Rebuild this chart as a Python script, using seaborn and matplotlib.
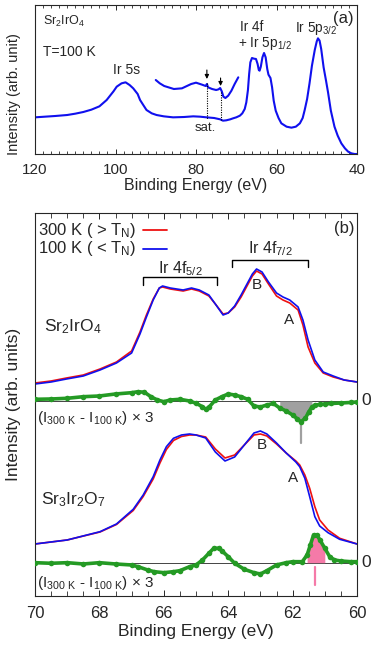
import numpy as np
import pandas as pd
import matplotlib
matplotlib.use("Agg")
import matplotlib.pyplot as plt
import seaborn as sns
from matplotlib.ticker import MultipleLocator

# ---- panel (a): wide scan, Sr2IrO4 at 100 K ----
wide_e = [120, 115, 112, 110, 108, 106, 104, 102.2, 100.5, 99.7, 98.5, 97.5, 96.5,
          95.6, 94.5, 93.9, 93, 92.3, 91, 89.8, 88, 85.7, 83, 80.7, 79, 77.4, 75.5,
          74, 73.3, 72.5, 71.5, 70.8, 70, 69.1, 68.5, 67.9, 67.5, 67.1, 66.8, 66.5,
          66.1, 65.6, 65.1, 64.7, 64.4, 64.2, 63.9, 63.5, 63.1, 62.7, 62.3, 62.0,
          61.5, 61.1, 60.7, 60.2, 59.5, 58.8, 57.5, 56.3, 55.2, 54.2, 53.5, 53,
          52.4, 51.8, 51.2, 50.5, 50, 49.7, 49.3, 48.9, 48.3, 47.7, 47.2, 46.5,
          45.6, 44.8, 43.9, 43, 42.2, 41.4, 40.6, 40]
wide_i = [110, 114, 117, 121, 126, 133, 143, 162, 188, 202, 212, 215, 207,
          197, 180, 162, 145, 132, 122, 117, 113, 110, 111, 113, 112, 110, 108,
          104, 100, 101, 104, 107, 110, 115, 122, 135, 155, 192, 240, 275,
          288, 286, 285, 270, 252, 250, 262, 290, 303, 290, 255, 238,
          228, 200, 160, 130, 108, 92, 82, 79, 82, 92, 108, 132,
          165, 212, 265, 312, 338, 347, 340, 315, 260, 220, 185, 130,
          82, 55, 32, 17, 7, 2, 0, 0]
# magnified satellite region (offset copy)
sat_e = [90, 89, 87.9, 85.5, 83.5, 81.2, 80, 78.5, 77.6, 77.3, 77, 76, 75, 74.4,
         74.0, 73.6, 73.2, 72.7, 72, 71.2, 70.4, 69.5]
sat_i = [222, 212, 204, 195, 197, 210, 214, 208, 204, 210, 200, 195, 192, 194,
         198, 188, 172, 168, 175, 190, 210, 230]
sat_marks = [77.3, 73.9]

# ---- panel (b): Ir 4f core levels ----
e214 = [70, 69.5, 69.02, 68.5, 67.98, 67.47, 67.0, 66.74, 66.54, 66.33, 66.14, 66.04,
        65.8, 65.6, 65.4, 65.14, 64.9, 64.6, 64.4, 64.16, 64.0, 63.8, 63.6, 63.4,
        63.25, 63.12, 62.95, 62.75, 62.5, 62.3, 62.09, 61.83, 61.68, 61.52, 61.31,
        61.05, 60.74, 60.4, 60]
b214_100K = [212, 214, 217, 220, 226, 233, 243, 262, 279, 296, 308, 310,
             308, 307, 306, 308, 306, 301, 292, 281, 283, 290, 301, 313,
             322, 327, 324, 314, 303, 299, 296, 289, 276, 256, 236,
             224, 220, 216, 214]
b214_300K = [213, 215, 218, 221, 227, 234, 245, 264, 281, 297, 308, 309,
             307, 306, 305, 307, 305, 300, 292, 282, 283, 289, 299, 311,
             320, 325, 322, 312, 300, 296, 293, 286, 271, 249, 233,
             223, 219, 216, 214]
d214_e = [70, 69.5, 69, 68.5, 68, 67.5, 67, 66.8, 66.6, 66.4, 66.2, 66, 65.8, 65.5,
          65.2, 65, 64.8, 64.7, 64.6, 64.4, 64.2, 64, 63.8, 63.6, 63.4, 63.2, 63,
          62.8, 62.6, 62.4, 62.2, 62, 61.85, 61.74, 61.6, 61.5, 61.4, 61.3, 61.15,
          61, 60.8, 60.5, 60.2, 60]
d214 = [196.7, 197, 197.7, 199.3, 200, 202, 203.3, 204.3, 203.7, 199.3, 196, 194.3,
        196, 196.7, 195, 192.7, 189.3, 186.7, 188.7, 196, 199.3, 202, 201, 199.3,
        196.7, 190, 189, 191, 192.5, 188, 185, 181, 177, 174, 178, 184, 189, 191,
        191.5, 192, 192.5, 193, 193.5, 194]
zero214 = 195
fill214 = (62.45, 61.38)
mark214 = 61.74

e327 = [70, 69, 67.98, 67.47, 66.95, 66.64, 66.33, 66.12, 65.92, 65.7, 65.45, 65.2,
        65, 64.7, 64.4, 64.1, 63.8, 63.5, 63.2, 63, 62.8, 62.5, 62.2, 61.9, 61.78,
        61.62, 61.47, 61.31, 61.16, 60.9, 60.54, 60]
b327_100K = [52, 56, 64.3, 72, 86.7, 101, 119.3, 136, 149.3, 157.7, 161, 162,
             161, 158, 144, 135, 139, 151, 163, 165, 162, 153, 143, 134, 129.3,
             117.7, 99.3, 79.3, 70, 63.3, 56.7, 52]
b327_300K = [52, 56, 64, 71.5, 85.5, 99.5, 117, 133, 146.5, 155.5, 159.5, 161,
             161, 159, 147, 138, 141, 151, 161, 162, 160, 152, 143, 135, 131,
             121, 107.7, 89.3, 76, 66, 57.7, 52]
d327_e = [70, 69.5, 69, 68.5, 68, 67.5, 67, 66.8, 66.5, 66.3, 66, 65.7, 65.5, 65.2,
          65, 64.8, 64.6, 64.45, 64.3, 64.2, 64, 63.8, 63.5, 63.2, 63, 62.8, 62.5,
          62.2, 62, 61.7, 61.55, 61.45, 61.35, 61.25, 61.15, 61.0, 60.85, 60.7,
          60.5, 60.2, 60]
d327 = [33.3, 32.7, 33.3, 32, 33.3, 32, 31, 29.3, 26, 24.3, 23.3, 24.3, 25.3, 29.3,
        31, 36, 42.7, 47.7, 47.7, 45.3, 39.3, 32.7, 26.7, 23.3, 22, 25.3, 31,
        33.3, 34.3, 34.3, 41, 51, 61, 61, 56, 47.7, 39.3, 36,
        35, 34.3, 34.3]
zero327 = 33.3
fill327 = (61.58, 60.88)
mark327 = 61.3

BLUE = "#1010ee"
RED = "#ee1111"
GREEN = "#249a24"
GREY = "#a0a0a0"
PINK = "#f57aa8"

sns.set_style("ticks")
plt.rcParams["font.family"] = ["Liberation Sans", "DejaVu Sans"]
plt.rcParams["mathtext.default"] = "regular"
plt.rcParams["axes.linewidth"] = 0.8
plt.rcParams["lines.solid_joinstyle"] = "round"

fig = plt.figure(figsize=(3.74, 6.49), dpi=100)
ax1 = fig.add_axes([0.0936, 0.7627, 0.861, 0.2296])
ax2 = fig.add_axes([0.0936, 0.0817, 0.861, 0.5901])


def curve(ax, x, y, color, lw):
    sns.lineplot(x=x, y=y, ax=ax, color=color, lw=lw, sort=False,
                 estimator=None)


def diff_dots(ax, x, y, zero, span, fill_color, mark, mark_y):
    ax.axhline(zero, color="#444444", lw=0.7, zorder=1)
    xs = np.array(x)
    ys = np.array(y)
    m = (xs <= span[0]) & (xs >= span[1])
    ax.fill_between(xs[m], ys[m], zero, color=fill_color, lw=0, zorder=2)
    sns.lineplot(x=x, y=y, ax=ax, color=GREEN, lw=2.6, sort=False, estimator=None,
                 marker="o", markersize=4, markeredgewidth=0, zorder=3)
    ax.plot([mark, mark], mark_y, color=fill_color, lw=1.6)


# ---------------- panel (a) ----------------
curve(ax1, wide_e, wide_i, BLUE, 1.5)
curve(ax1, sat_e, sat_i, BLUE, 1.5)
for xm, (y0, y1), (d0, d1) in zip(sat_marks, [(252, 225), (228, 204)],
                                  [(213, 105), (186, 102)]):
    ax1.annotate("", xy=(xm, y1), xytext=(xm, y0),
                 arrowprops=dict(arrowstyle="-|>", color="k", lw=0.8,
                                 mutation_scale=6, shrinkA=0, shrinkB=0))
    ax1.plot([xm, xm], [d0, d1], color="k", lw=0.8, ls=(0, (1, 1.2)))

ax1.set_xlim(120, 40)
ax1.set_ylim(0, 447)
ax1.set_yticks([])
ax1.xaxis.set_major_locator(MultipleLocator(20))
ax1.xaxis.set_minor_locator(MultipleLocator(2))
ax1.tick_params(axis="x", which="both", direction="in", top=True,
                labelsize=11, pad=6.5)
ax1.tick_params(axis="x", which="major", length=3.6, width=0.7)
ax1.tick_params(axis="x", which="minor", length=2, width=0.6)
ax1.set_xlabel("Binding Energy (eV)", fontsize=11.5, labelpad=1)
ax1.set_ylabel("Intensity (arb. unit)", fontsize=10.5)
ax1.yaxis.set_label_coords(-0.045, 0.4)

ax1.text(118, 397, "Sr$_2$IrO$_4$", fontsize=9, va="center")
ax1.text(118, 307, "T=100 K", fontsize=10, va="center")
ax1.text(97.25, 252, "Ir 5s", fontsize=10, ha="center", va="center")
ax1.text(77.6, 77, "sat.", fontsize=9.5, ha="center", va="center")
ax1.text(69, 382, "Ir 4f", fontsize=9.8, va="center")
ax1.text(69.6, 332, "+ Ir 5p$_{1/2}$", fontsize=9.8, va="center")
ax1.text(55.5, 377, "Ir 5p$_{3/2}$", fontsize=9.8, va="center")
ax1.text(43.3, 407, "(a)", fontsize=12, ha="center", va="center")

# ---------------- panel (b) ----------------
curve(ax2, e214, b214_300K, RED, 1.2)
curve(ax2, e214, b214_100K, BLUE, 1.2)
curve(ax2, e327, b327_300K, RED, 1.2)
curve(ax2, e327, b327_100K, BLUE, 1.2)
diff_dots(ax2, d214_e, d214, zero214, fill214, GREY, mark214, [171, 153])
diff_dots(ax2, d327_e, d327, zero327, fill327, PINK, mark327, [29, 11])

# temperature key
for lab, col, yk in [("300 K ( > T$_N$)", RED, 366), ("100 K ( < T$_N$)", BLUE, 347)]:
    ax2.text(69.9, yk, lab, fontsize=12, va="center")
    ax2.plot([66.65, 65.9], [yk, yk], color=col, lw=1.3)

# brackets
for x0, x1, yb, yend, lab, ylab in [(66.66, 64.34, 319, 311, "Ir 4f$_{5/2}$", 323),
                                    (63.88, 61.52, 336, 329, "Ir 4f$_{7/2}$", 343)]:
    ax2.plot([x0, x0, x1, x1], [yend, yb, yb, yend], color="k", lw=1.0)
    ax2.text((x0 + x1) / 2, ylab, lab, fontsize=11.5, ha="center", va="baseline")

ax2.text(63.1, 311, "B", fontsize=11, ha="center", va="center")
ax2.text(62.1, 276, "A", fontsize=11, ha="center", va="center")
ax2.text(62.97, 151, "B", fontsize=11, ha="center", va="center")
ax2.text(61.98, 118, "A", fontsize=11, ha="center", va="center")
ax2.text(69.72, 269, "Sr$_2$IrO$_4$", fontsize=12.5, va="center")
ax2.text(69.8, 96, "Sr$_3$Ir$_2$O$_7$", fontsize=12.5, va="center")
ax2.text(69.95, 178, "(I$_{300\\ K}$ - I$_{100\\ K}$) × 3", fontsize=11, va="center")
ax2.text(69.95, 13, "(I$_{300\\ K}$ - I$_{100\\ K}$) × 3", fontsize=11, va="center")
ax2.text(60.4, 368, "(b)", fontsize=12, ha="center", va="center")
trans = ax2.get_yaxis_transform()
ax2.text(1.014, zero214, "0", transform=trans, fontsize=12.5, va="center")
ax2.text(1.014, zero327, "0", transform=trans, fontsize=12.5, va="center")

ax2.set_xlim(70, 60)
ax2.set_ylim(0, 383)
ax2.set_yticks([])
ax2.xaxis.set_major_locator(MultipleLocator(2))
ax2.xaxis.set_minor_locator(MultipleLocator(0.5))
ax2.tick_params(axis="x", which="both", direction="in", top=True,
                labelsize=12, pad=7.5)
ax2.tick_params(axis="x", which="major", length=4.5, width=0.7)
ax2.tick_params(axis="x", which="minor", length=3.5, width=0.6)
ax2.set_xlabel("Binding Energy (eV)", fontsize=12.5, labelpad=2)
ax2.set_ylabel("Intensity (arb. units)", fontsize=12.5)
ax2.yaxis.set_label_coords(-0.045, 0.5)

fig.savefig("out.png", dpi=100)
